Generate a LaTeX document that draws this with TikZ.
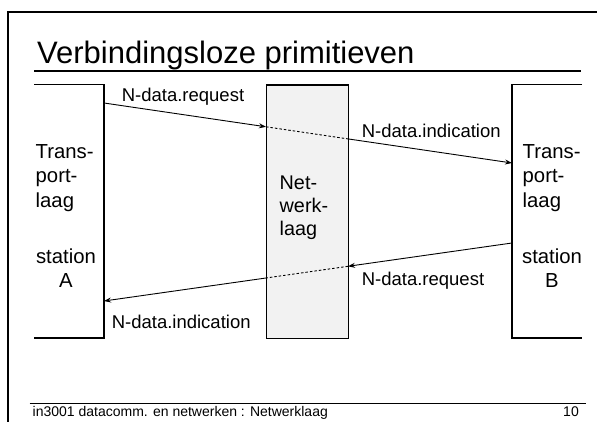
\documentclass[tikz,border=0pt]{standalone}
\usepackage{fontspec}
\setmainfont{Liberation Sans}
\usetikzlibrary{arrows.meta}
\definecolor{netgray}{HTML}{F2F2F2}
\tikzset{
  lbl/.style={inner sep=0pt, font=\fontsize{18.5}{23.5}\selectfont},
  blocktext/.style={inner sep=0pt, font=\fontsize{20.3}{24.3}\selectfont},
  boxline/.style={line width=1.4pt},
  arr/.style={line width=0.9pt, -{Stealth[length=7pt,width=5pt]}},
  dashline/.style={line width=0.9pt, dash pattern=on 2.5pt off 2pt},
}
\begin{document}
\begin{tikzpicture}[x=1pt,y=-1pt]
\useasboundingbox (0,0) rectangle (597,422);
\clip (0,0) rectangle (597,422);
% slide frame
\draw[line width=2.5pt] (8,440) -- (8,12) -- (620,12);
% title
\node[inner sep=0pt, anchor=base west, font=\fontsize{31}{36}\selectfont] (title) at (37,63.3) {Verbindingsloze primitieven};
\draw[line width=1.8pt] (34,71) -- (581,71);
% footer
\draw[line width=1.3pt] (29.5,403.3) -- (585.5,403.3);
\node[inner sep=0pt, anchor=base west, font=\fontsize{14}{16}\selectfont] (foot) at (32.5,416.5) {in3001 datacomm. en netwerken : Netwerklaag};
\node[inner sep=0pt, anchor=base east, font=\fontsize{14}{16}\selectfont] (page) at (579,416.5) {10};
% boxes
\coordinate (A) at (104,84.5);
\coordinate (B) at (512,84.5);
\draw[boxline] (34,84.5) -- (104,84.5) -- (104,338) -- (34,338);
\draw[boxline] (582,84.5) -- (512,84.5) -- (512,338) -- (582,338);
\node[boxline, draw, fill=netgray, minimum width=82pt, minimum height=253.5pt, inner sep=0pt, anchor=north west] (N) at (266,84.5) {};
% box texts
\node[blocktext, align=left, anchor=north west] (ta) at (35.5,144.5) {Trans-\\port-\\laag};
\node[blocktext, align=center, anchor=north] (sa) at (66,248.5) {station\\A};
\node[blocktext, align=left, anchor=north west] (tb) at (522.5,144.5) {Trans-\\port-\\laag};
\node[blocktext, align=center, anchor=north] (sb) at (552,248.5) {station\\B};
\node[inner sep=0pt, font=\fontsize{19.8}{23}\selectfont, align=left, anchor=north west] (tn) at (279.5,175.8) {Net-\\werk-\\laag};
% connector points
\coordinate (a1) at (104,103);
\coordinate (n1) at (266,126.8);
\coordinate (n2) at (348,138.9);
\coordinate (b1) at (512,163);
\coordinate (b2) at (512,243);
\coordinate (n3) at (348,266.3);
\coordinate (n4) at (266,278);
\coordinate (a2) at (104,301);
% connectors
\draw[arr] (a1) -- (n1);
\draw[dashline] (n1) -- (n2);
\draw[arr] (n2) -- (b1);
\draw[arr] (b2) -- (n3);
\draw[dashline] (n3) -- (n4);
\draw[arr] (n4) -- (a2);
% labels
\node[lbl, anchor=base west] (l1) at (121.6,101.5) {N-data.request};
\node[lbl, anchor=base west] (l2) at (361.6,138) {N-data.indication};
\node[lbl, anchor=base west] (l3) at (361.6,285) {N-data.request};
\node[lbl, anchor=base west] (l4) at (111.6,328.5) {N-data.indication};
\end{tikzpicture}
\end{document}
